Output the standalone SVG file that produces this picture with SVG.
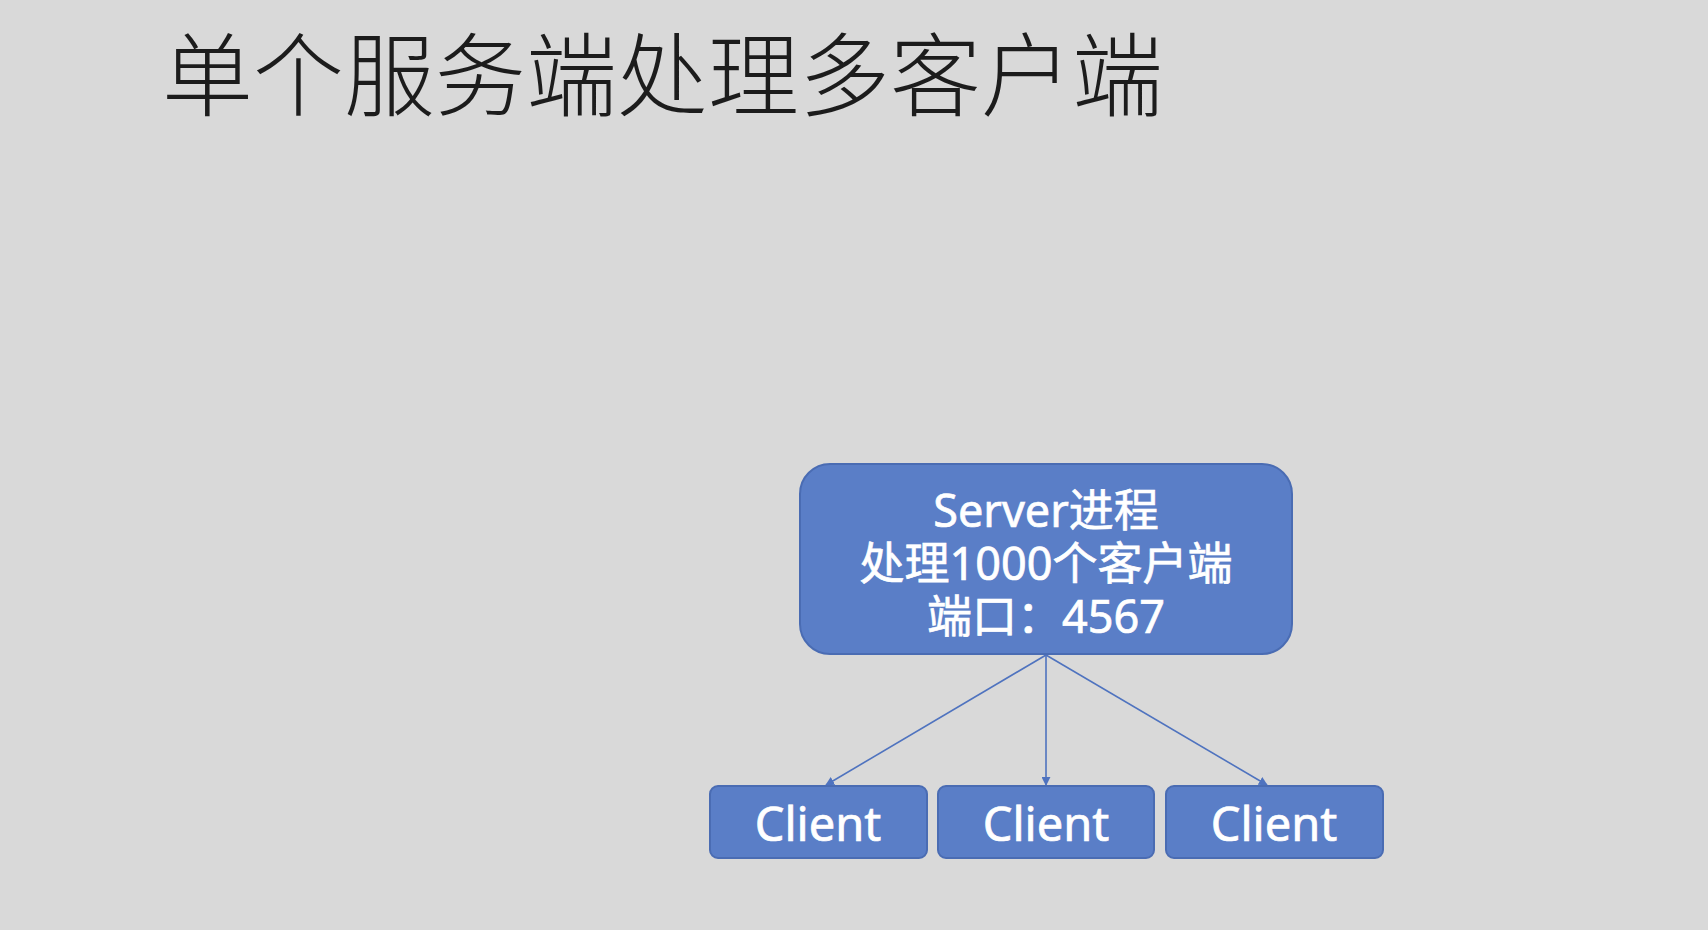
<svg xmlns="http://www.w3.org/2000/svg" width="1708" height="930" viewBox="0 0 1708 930">
<defs>
<style>
.bg{fill:#d9d9d9}
.title{font-family:"Noto Sans CJK SC","Noto Sans",sans-serif;font-size:91px;font-weight:300;fill:#1c1c1c}
.box{fill:#5a7ec7;stroke:#4a6cb3;stroke-width:2}
.t{font-family:"Noto Sans","Noto Sans CJK SC",sans-serif;fill:#ffffff;stroke:#ffffff;stroke-width:0.7;text-anchor:middle}
.srv{font-size:45px}
.cli{font-size:47px}
.edge{stroke:#4f73bf;stroke-width:1.6;fill:none;marker-end:url(#ah)}
</style>
<marker id="ah" viewBox="0 0 10 10" refX="9" refY="5" markerWidth="9" markerHeight="9" markerUnits="userSpaceOnUse" orient="auto">
<path d="M0,0 L10,5 L0,10 z" fill="#4f73bf"/>
</marker>
</defs>
<rect class="bg" x="0" y="0" width="1708" height="930"/>
<text class="title" x="162" y="109">单个服务端处理多客户端</text>
<g id="connectors">
<line class="edge" x1="1046" y1="655" x2="826" y2="785"/>
<line class="edge" x1="1046" y1="655" x2="1046" y2="785"/>
<line class="edge" x1="1046" y1="655" x2="1267" y2="785"/>
</g>
<g id="server">
<rect class="box" x="800" y="464" width="492" height="190" rx="30" ry="30"/>
<text class="t srv" x="1046" y="527">Server进程</text>
<text class="t srv" x="1046" y="580">处理1000个客户端</text>
<text class="t srv" x="1046" y="633">端口：4567</text>
</g>
<g id="client1">
<rect class="box" x="710" y="786" width="217" height="72" rx="8" ry="8"/>
<text class="t cli" x="818" y="841">Client</text>
</g>
<g id="client2">
<rect class="box" x="938" y="786" width="216" height="72" rx="8" ry="8"/>
<text class="t cli" x="1046" y="841">Client</text>
</g>
<g id="client3">
<rect class="box" x="1166" y="786" width="217" height="72" rx="8" ry="8"/>
<text class="t cli" x="1274" y="841">Client</text>
</g>
</svg>
